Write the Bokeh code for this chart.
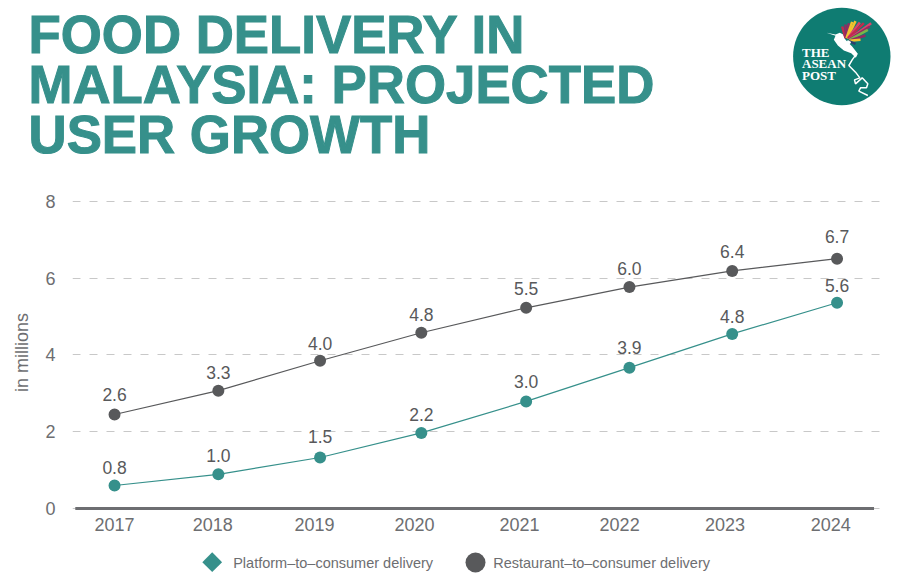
from bokeh.plotting import figure
from bokeh.layouts import column
from bokeh.models import FixedTicker, Range1d, ColumnDataSource
from bokeh.core.properties import value
from bokeh.embed import file_html
from bokeh.resources import INLINE

years = [2017, 2018, 2019, 2020, 2021, 2022, 2023, 2024]
year_labels = ["2017", "2018", "2019", "2020", "2021", "2022", "2023", "2024"]
restaurant = [2.45, 3.07, 3.85, 4.58, 5.23, 5.77, 6.19, 6.51]
platform = [0.60, 0.89, 1.33, 1.97, 2.79, 3.67, 4.55, 5.36]
restaurant_labels = ["2.6", "3.3", "4.0", "4.8", "5.5", "6.0", "6.4", "6.7"]
platform_labels = ["0.8", "1.0", "1.5", "2.2", "3.0", "3.9", "4.8", "5.6"]
title_lines = ["FOOD DELIVERY IN", "MALAYSIA: PROJECTED", "USER GROWTH"]
legend_labels = ["Platform\u2013to\u2013consumer delivery", "Restaurant\u2013to\u2013consumer delivery"]
y_ticks = [0, 2, 4, 6, 8]

# where the reference puts its marks and tick labels along x (slightly uneven)
point_x = [2017, 2018.005, 2018.99, 2019.97, 2020.985, 2021.985, 2022.98, 2023.995]
tick_x = [2017, 2017.95, 2018.935, 2019.905, 2020.92, 2021.89, 2022.91, 2023.935]
# gap from point to label, in pixels
restaurant_gap = [20, 19, 18, 18.5, 19.5, 19.5, 20, 23]
platform_gap = [18, 19, 21, 18.5, 20, 21, 17.5, 18]

TEAL = "#36908b"
DARK = "#58595b"
GREY = "#6d6e71"
FONT = "Liberation Sans"

# ---------- header: coordinates are page pixels ----------
head = figure(width=900, height=185, x_range=Range1d(0, 900), y_range=Range1d(185, 0),
              output_backend="svg", toolbar_location=None, min_border=0,
              outline_line_color=None, x_axis_location=None, y_axis_location=None)
head.frame_align = False
head.grid.visible = False
head.text(x=[28] * 3, y=[34, 84, 134], text=title_lines, text_color=TEAL,
          text_font=value(FONT), text_font_style="bold", text_font_size="52.8px",
          text_outline_color=TEAL, text_baseline="alphabetic", text_align="left")
head.circle(x=[841.3], y=[56], radius=48.7, fill_color="#0f7c72", line_color=None)


def zx(a):
    return [780 + v / 3 for v in a]


def zy(a):
    return [v / 3 for v in a]


head.text(x=[801.5] * 3, y=[51.5, 63, 75], text=["THE", "ASEAN", "POST"], text_color="white",
          text_font=value("Liberation Serif"), text_font_style="bold", text_font_size="13px",
          text_baseline="alphabetic")
# hummingbird
body_x = [138, 165, 178, 188, 195, 215, 232, 226, 212, 190, 172, 160, 165]
body_y = [97, 102, 97, 102, 118, 138, 160, 172, 158, 150, 135, 118, 106]
head.patch(zx(body_x), zy(body_y), fill_color="white", line_color=None)
head.line(zx([228, 215, 205, 225, 238, 222, 225, 245, 262, 258, 240, 235, 262]),
          zy([160, 178, 195, 215, 232, 238, 250, 232, 250, 262, 262, 272, 285]),
          line_color="white", line_width=1.5)
wing_x = [[195, 185], [196, 195], [197, 205], [198, 215], [200, 225], [202, 238], [203, 250],
          [205, 272], [206, 268], [207, 262], [208, 255], [206, 240], [205, 225], [200, 210]]
wing_y = [[113, 78], [113, 72], [113, 68], [113, 64], [113, 62], [113, 66], [113, 68],
          [116, 68], [117, 78], [118, 88], [120, 105], [121, 118], [122, 130], [122, 128]]
wing_c = ["#c2294d", "#8e2c63", "#8e2c63", "#f2c12e", "#f2c12e", "#d8426a", "#c2294d",
          "#d8426a", "#8e2c63", "#7ab648", "#8e2c63", "#f2c12e", "#2d3e6e", "#ffffff"]
head.multi_line([zx(a) for a in wing_x], [zy(a) for a in wing_y], line_color=wing_c, line_width=2.5)

# ---------- chart ----------
p = figure(width=900, height=360, frame_width=810, frame_height=324,
           x_range=Range1d(2016.593, 2024.435), y_range=Range1d(-0.156, 8.286),
           output_backend="svg", toolbar_location=None, outline_line_color=None,
           min_border_left=72, min_border_right=18, min_border_top=5, min_border_bottom=31)
p.frame_align = False
p.xgrid.visible = False
p.ygrid.ticker = FixedTicker(ticks=y_ticks)
p.ygrid.grid_line_color = "#c8c8c8"
p.ygrid.grid_line_dash = "8 9"
p.ygrid.grid_line_width = 1
p.xaxis.ticker = FixedTicker(ticks=tick_x)
p.xaxis.major_label_overrides = dict(zip(tick_x, year_labels))
p.yaxis.ticker = FixedTicker(ticks=y_ticks)
for ax in (p.xaxis[0], p.yaxis[0]):
    ax.axis_line_color = None
    ax.major_tick_line_color = None
    ax.minor_tick_line_color = None
    ax.major_label_text_color = GREY
    ax.major_label_text_font = FONT
    ax.major_label_text_font_size = "18px"
p.xaxis.major_label_standoff = -3
p.yaxis.major_label_standoff = 11
p.yaxis.axis_label = "in millions"
p.yaxis.axis_label_text_font = FONT
p.yaxis.axis_label_text_font_style = "normal"
p.yaxis.axis_label_text_font_size = "18px"
p.yaxis.axis_label_text_color = GREY
p.yaxis.axis_label_standoff = 10

p.segment(x0=[2016.62], y0=[0], x1=[2024.353], y1=[0], line_color=GREY, line_width=3)

p.line(point_x, restaurant, line_color=DARK, line_width=1.2)
p.line(point_x, platform, line_color=TEAL, line_width=1.2)
p.scatter(point_x, restaurant, size=12, fill_color=DARK, line_color=None)
p.scatter(point_x, platform, size=12, fill_color=TEAL, line_color=None)
for vals, labs, gaps in ((restaurant, restaurant_labels, restaurant_gap),
                         (platform, platform_labels, platform_gap)):
    src = ColumnDataSource(data=dict(x=point_x, y=vals, t=labs, dy=[7 - g for g in gaps]))
    p.text("x", "y", text="t", y_offset="dy", source=src, text_color=DARK, text_font=value(FONT),
           text_font_size="17.5px", text_align="center", text_baseline="bottom")

# ---------- legend row: coordinates are page pixels ----------
key = figure(width=900, height=32, x_range=Range1d(0, 900), y_range=Range1d(577, 545),
             output_backend="svg", toolbar_location=None, min_border=0,
             outline_line_color=None, x_axis_location=None, y_axis_location=None)
key.frame_align = False
key.grid.visible = False
key.scatter([211.7], [561.7], marker="square", angle=0.7854, size=14, fill_color=TEAL, line_color=None)
key.scatter([475], [562], marker="circle", size=20, fill_color=DARK, line_color=None)
key.text(x=[232.7, 492.7], y=[562, 562], text=legend_labels, text_color=GREY,
         text_font=value(FONT), text_font_size="14.5px", text_baseline="middle", text_align="left")

page = column(head, p, key, spacing=0)
open("out.html", "w").write(file_html(page, INLINE))
